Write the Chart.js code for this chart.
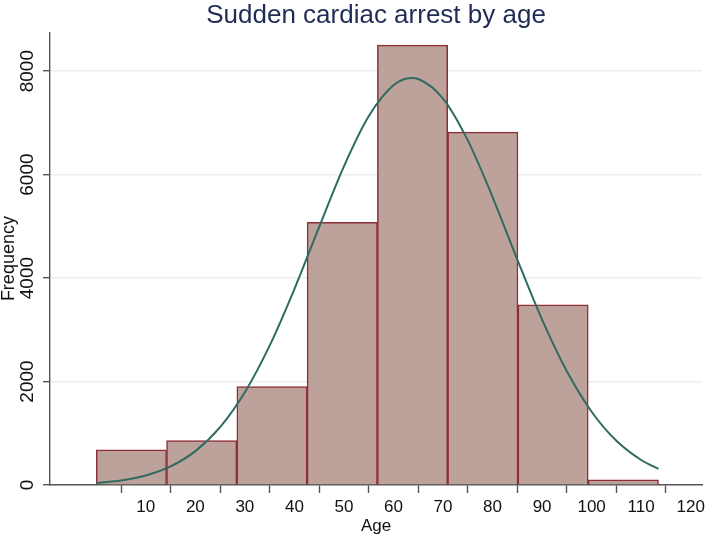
<!DOCTYPE html>
<html>
<head>
<meta charset="utf-8">
<title>Sudden cardiac arrest by age</title>
<script src="https://cdn.jsdelivr.net/npm/chart.js@4.4.1/dist/chart.umd.min.js"></script>
<style>
  html, body { margin: 0; padding: 0; background: #fff; }
</style>
</head>
<body>
<canvas id="hist" width="709" height="541"></canvas>
<script>
// histogram bins (age) and counts
const binEdges = [0, 14.19, 28.38, 42.56, 56.75, 70.94, 85.13, 99.31, 113.5];
const frequencies = [682, 861, 1904, 5078, 8502, 6822, 3485, 100];

// normal curve overlay
const curveAges = [0, 5, 10, 15, 20, 25, 30, 35, 40, 45, 50, 55, 60, 63.7, 65, 70, 75, 80, 85, 90, 95, 100, 105, 110, 113.5];
const curveValues = [40, 89, 184, 359, 655, 1120, 1794, 2693, 3787, 4990, 6161, 7128, 7727, 7866, 7849, 7470, 6662, 5567, 4358, 3197, 2198, 1416, 854, 483, 312];

const xTicks = [10, 20, 30, 40, 50, 60, 70, 80, 90, 100, 110, 120];
const yTicks = [0, 2000, 4000, 6000, 8000];

const bars = frequencies.map((f, i) => ({ x: (binEdges[i] + binEdges[i + 1]) / 2, y: f }));
const curve = curveAges.map((a, i) => ({ x: a, y: curveValues[i] }));

const axisColor = "#555555";
const font = "'Liberation Sans', Arial, sans-serif";

const ctx = document.getElementById("hist").getContext("2d");
new Chart(ctx, {
  type: "bar",
  data: {
    datasets: [
      {
        type: "line",
        data: curve,
        borderColor: "#2f6b60",
        borderWidth: 2,
        pointRadius: 0,
        cubicInterpolationMode: "monotone",
        order: 0,
      },
      {
        type: "bar",
        data: bars,
        backgroundColor: "#bda19b",
        borderColor: "#8f2d38",
        borderWidth: 1.5,
        barThickness: "flex",
        barPercentage: 1,
        categoryPercentage: 1,
        order: 1,
      },
    ],
  },
  options: {
    responsive: false,
    animation: false,
    devicePixelRatio: 1,
    layout: { padding: { left: 0, right: 1, top: 0, bottom: 0 }, autoPadding: false },
    plugins: {
      legend: { display: false },
      tooltip: { enabled: false },
      title: {
        display: true,
        text: "Sudden cardiac arrest by age",
        fullSize: false,
        color: "#1f2c55",
        font: { family: font, size: 26, weight: "normal", lineHeight: 1.2 },
        padding: { top: 0, bottom: 1 },
      },
    },
    scales: {
      x: {
        type: "linear",
        offset: false,
        min: -9.34,
        max: 122.3,
        afterBuildTicks: (scale) => {
          scale.ticks = xTicks.map((v) => ({ value: v }));
        },
        afterFit: (scale) => {
          scale.height = 56;
        },
        border: { color: axisColor, width: 1.4 },
        grid: {
          drawOnChartArea: false,
          tickColor: axisColor,
          tickLength: 8,
          tickWidth: 1.4,
        },
        ticks: {
          autoSkip: false,
          maxRotation: 0,
          padding: 4,
          color: "#111",
          font: { family: font, size: 17 },
          callback: (v) => String(v),
        },
        title: {
          display: true,
          text: "Age",
          color: "#111",
          font: { family: font, size: 17 },
          padding: { top: 0, bottom: 4 },
        },
      },
      y: {
        min: 0,
        max: 8753,
        afterBuildTicks: (scale) => {
          scale.ticks = yTicks.map((v) => ({ value: v }));
        },
        afterFit: (scale) => {
          scale.width = 50;
        },
        border: { color: axisColor, width: 1.4 },
        grid: {
          color: (c) => (c.tick && c.tick.value === 0 ? "rgba(0,0,0,0)" : "#e8eff1"),
          lineWidth: 1.4,
          tickColor: axisColor,
          tickLength: 7,
          tickWidth: 1.4,
        },
        ticks: {
          autoSkip: false,
          minRotation: 90,
          maxRotation: 90,
          crossAlign: "center",
          padding: -6,
          color: "#111",
          font: { family: font, size: 19 },
          callback: (v) => String(v),
        },
        title: {
          display: true,
          text: "Frequency",
          color: "#111",
          font: { family: font, size: 18, lineHeight: 1 },
          padding: { top: 0, bottom: 0 },
        },
      },
    },
  },
});
</script>
</body>
</html>
